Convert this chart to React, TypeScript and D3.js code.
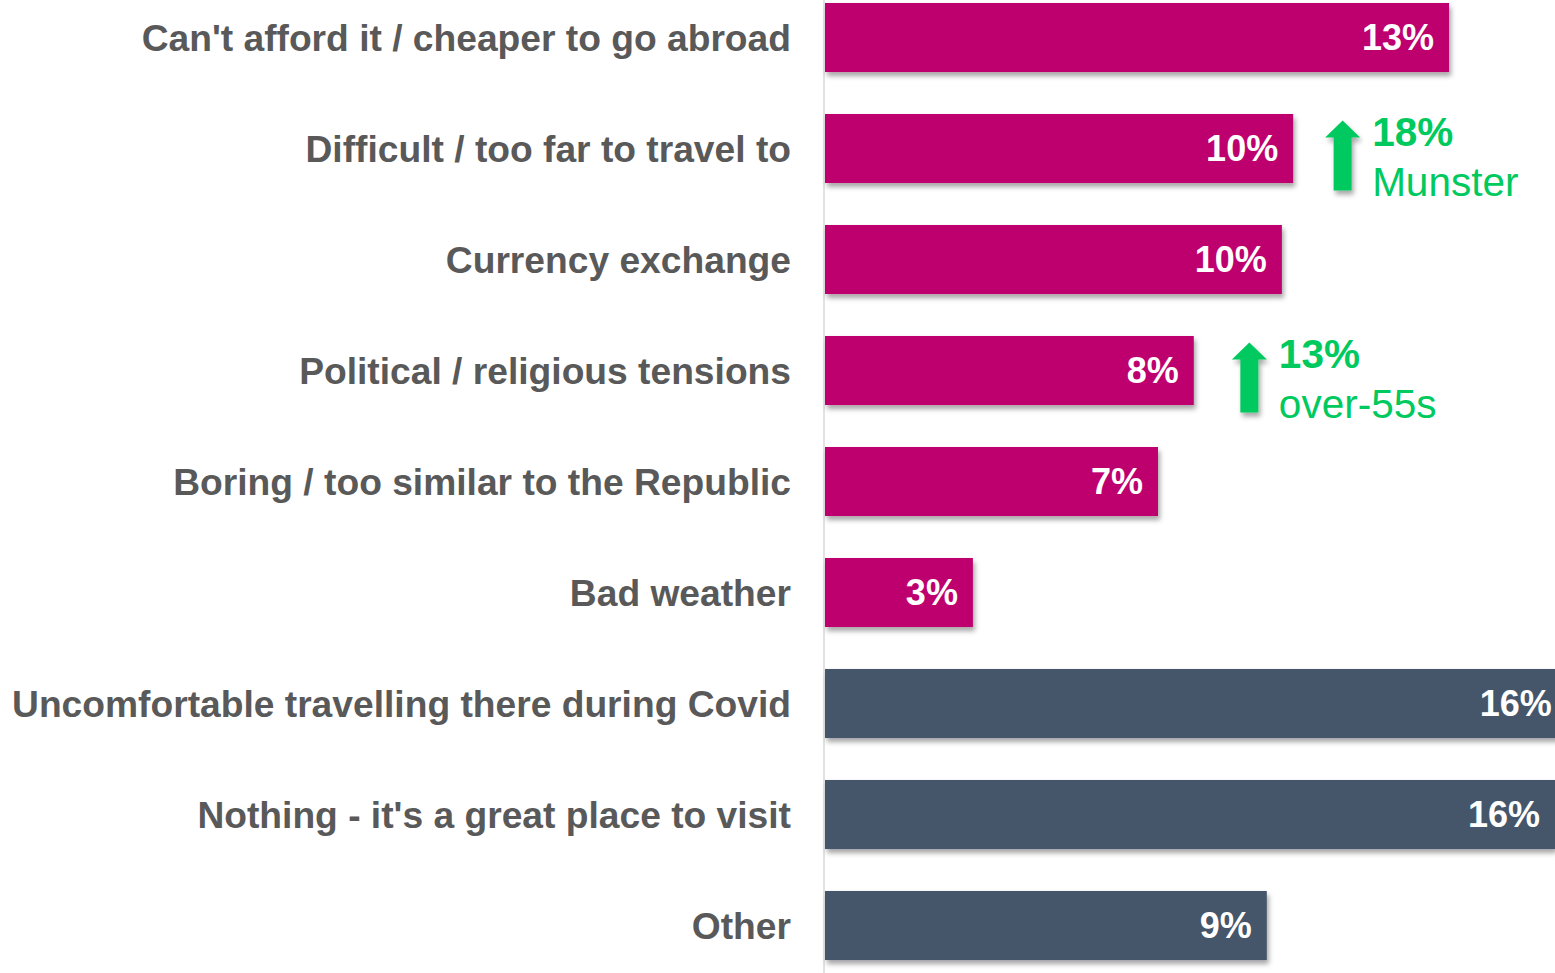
import React from "react";
import * as d3 from "d3";

const categories = [
  "Can't afford it / cheaper to go abroad",
  "Difficult / too far to travel to",
  "Currency exchange",
  "Political / religious tensions",
  "Boring / too similar to the Republic",
  "Bad weather",
  "Uncomfortable travelling there during Covid",
  "Nothing - it's a great place to visit",
  "Other",
];
const values = [13.25, 9.94, 9.7, 7.83, 7.07, 3.14, 15.75, 15.5, 9.38];
const groups = ["neg", "neg", "neg", "neg", "neg", "neg", "other", "other", "other"];

const callouts = [
  { category: "Difficult / too far to travel to", value: "18%", label: "Munster", at: 10.99 },
  { category: "Political / religious tensions", value: "13%", label: "over-55s", at: 9.01 },
];

const W = 1555;
const H = 973;
const MAGENTA = "#BE006E";
const NAVY = "#44546A";
const GREEN = "#00C95E";
const GREY = "#595959";

export default function App() {
  const x = d3.scaleLinear().domain([0, 16]).range([825, 825 + 47.1 * 16]);
  const y = d3
    .scaleBand<string>()
    .domain(categories)
    .range([-18, -18 + 111 * categories.length])
    .paddingInner(0.378)
    .paddingOuter(0.189);
  const bw = y.bandwidth();
  const font = "'Liberation Sans', Arial, sans-serif";

  return (
    <div style={{ position: "absolute", left: 0, top: 0 }}>
      <svg width={W} height={H} style={{ display: "block", background: "#fff" }}>
        <defs>
          <filter id="sh" x="-5%" y="-20%" width="115%" height="160%">
            <feDropShadow dx="2" dy="4" stdDeviation="2.5" floodColor="#000" floodOpacity="0.35" />
          </filter>
        </defs>
        <line x1={824} x2={824} y1={0} y2={H} stroke="#d9d9d9" strokeWidth={1.5} />
        {categories.map((c, i) => {
          const y0 = y(c)!;
          const cy = y0 + bw / 2;
          return (
            <g key={c}>
              <rect
                x={x(0)}
                y={y0}
                width={x(values[i]) - x(0)}
                height={bw}
                fill={groups[i] === "neg" ? MAGENTA : NAVY}
                filter="url(#sh)"
              />
              <text
                x={791}
                y={cy}
                dy="0.35em"
                textAnchor="end"
                fontFamily={font}
                fontWeight="bold"
                fontSize={37.2}
                fill={GREY}
              >
                {c}
              </text>
              <text
                x={x(values[i]) - 15}
                y={cy}
                dy="0.35em"
                textAnchor="end"
                fontFamily={font}
                fontWeight="bold"
                fontSize={36}
                fill="#fff"
              >
                {Math.round(values[i]) + "%"}
              </text>
            </g>
          );
        })}
        {callouts.map((co) => {
          const cy = y(co.category)! + bw / 2;
          const ax = x(co.at);
          const top = cy - 28;
          const headBase = cy - 11;
          const bottom = cy + 42;
          const path = `M${ax},${top} L${ax + 17.5},${headBase} L${ax + 9},${headBase} L${ax + 9},${bottom} L${ax - 9},${bottom} L${ax - 9},${headBase} L${ax - 17.5},${headBase} Z`;
          return (
            <g key={co.label}>
              <path d={path} fill={GREEN} filter="url(#sh)" />
              <text x={ax + 29.5} y={cy - 3} fontFamily={font} fontWeight="bold" fontSize={40.5} fill={GREEN}>
                {co.value}
              </text>
              <text x={ax + 29.5} y={cy + 47} fontFamily={font} fontSize={40.5} fill={GREEN}>
                {co.label}
              </text>
            </g>
          );
        })}
      </svg>
    </div>
  );
}
